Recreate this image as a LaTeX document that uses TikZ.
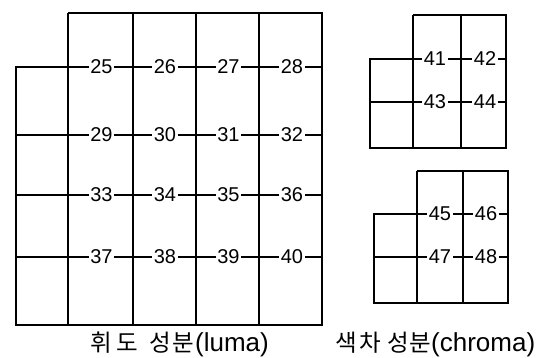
\documentclass[tikz,border=0pt]{standalone}
\usepackage{fontspec}
\setmainfont{Liberation Sans}
\newfontfamily\krfont{Noto Sans CJK KR}
\newcommand{\krsize}{\fontsize{23.5}{23.5}\selectfont}
\begin{document}
\begin{tikzpicture}[x=1pt,y=-1pt,
  vline/.style={line width=2.6pt},
  hline/.style={line width=1.6pt},
  cvline/.style={line width=2.0pt},
  chline/.style={line width=1.4pt},
  lab/.style={fill=white, inner sep=1.4pt, font=\fontsize{20}{20}\selectfont},
  captext/.style={anchor=base west, inner sep=0pt, font=\fontsize{26}{26}\selectfont}]
\useasboundingbox (0,0) rectangle (555,358);
% ---------- luma ----------
\foreach \y in {67,135,195,257} \draw[hline] (16,\y) -- (322,\y);
\foreach \x in {68,133,196,259} \draw[vline] (\x,13) -- (\x,325);
\draw[vline,line join=miter] (68,13) -- (322,13) -- (322,325) -- (16,325) -- (16,67) -- (68,67);
\foreach \n [count=\i from 0] in {25,...,40}{
  \pgfmathtruncatemacro{\c}{mod(\i,4)}
  \pgfmathtruncatemacro{\r}{div(\i,4)}
  \pgfmathsetmacro{\xx}{101.5+63.5*\c}
  \pgfmathsetmacro{\yy}{{67,135,195,257}[\r]}
  \node[lab] (n\n) at (\xx,\yy) {\n};
}
\node[captext] (capL) at (90,352) {{\krfont\krsize 휘\hspace{4.5pt}도\hspace{11.5pt}성\hspace{1.5pt}분}\hspace{1pt}(luma)};
% ---------- chroma top ----------
\foreach \y in {59,102} \draw[chline] (370,\y) -- (506,\y);
\foreach \x in {413,461} \draw[cvline] (\x,15) -- (\x,148);
\draw[cvline,line join=miter] (413,15) -- (506,15) -- (506,148) -- (370,148) -- (370,59) -- (413,59);
\node[lab] (n41) at (435,59) {41};
\node[lab] (n42) at (485,59) {42};
\node[lab] (n43) at (435,102) {43};
\node[lab] (n44) at (485,102) {44};
% ---------- chroma bottom ----------
\foreach \y in {214,257} \draw[chline] (374,\y) -- (508,\y);
\foreach \x in {417,463} \draw[cvline] (\x,171) -- (\x,303);
\draw[cvline,line join=miter] (417,171) -- (508,171) -- (508,303) -- (374,303) -- (374,214) -- (417,214);
\node[lab] (n45) at (440,214) {45};
\node[lab] (n46) at (486,214) {46};
\node[lab] (n47) at (440,257) {47};
\node[lab] (n48) at (486,257) {48};
\node[captext] (capC) at (335,352) {{\krfont\krsize 색\hspace{2.5pt}차\hspace{6.5pt}성\hspace{0.5pt}분}(chroma)};
\end{tikzpicture}
\end{document}
